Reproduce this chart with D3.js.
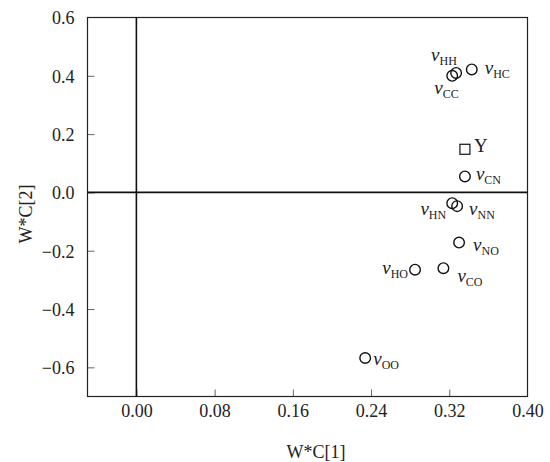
<!DOCTYPE html>
<html>
<head>
<meta charset="utf-8">
<script src="https://cdn.jsdelivr.net/npm/d3@7"></script>
<style>
  body { margin: 0; background: #fff; }
  text { font-family: "Liberation Serif", "DejaVu Serif", serif; fill: #222; }
</style>
</head>
<body>
<div id="chart"></div>
<script>
// point names (subscripts of v), coordinates
const names = ["HH", "CC", "HC", "CN", "HN", "NN", "NO", "HO", "CO", "OO"];
const xVals = [0.327, 0.323, 0.343, 0.336, 0.323, 0.328, 0.330, 0.285, 0.314, 0.234];
const yVals = [0.410, 0.400, 0.422, 0.055, -0.037, -0.047, -0.172, -0.265, -0.260, -0.568];
// the square marker
const yName = "Y";
const yPoint = [0.336, 0.148];

const xTicks = [0.00, 0.08, 0.16, 0.24, 0.32, 0.40];
const yTicks = [0.6, 0.4, 0.2, 0.0, -0.2, -0.4, -0.6];

// label placement next to each circle (dx, dy, anchor)
const labelPos = {
  HH: [-25, -12, "start"],
  CC: [-18, 18, "start"],
  HC: [13, 5, "start"],
  CN: [11, 4, "start"],
  HN: [-6, 12, "end"],
  NN: [12, 9, "start"],
  NO: [14, 8, "start"],
  HO: [-7, 4, "end"],
  CO: [14, 14, "start"],
  OO: [8, 7, "start"]
};

const width = 550, height = 462;
const margin = {left: 87.5, right: 22.5, top: 17.5, bottom: 65.5};

const svg = d3.select("#chart").append("svg")
  .attr("width", width)
  .attr("height", height);

let x = d3.scaleLinear().domain([-0.05, 0.40]).range([margin.left, width - margin.right]);
let y = d3.scaleLinear().domain([-0.7, 0.6]).range([height - margin.bottom, margin.top]);

// ticks pointing inward
let xAxis = d3.axisBottom(x).tickValues(xTicks).tickSize(-7).tickPadding(8).tickFormat(d3.format(".2f"));
let yAxis = d3.axisLeft(y).tickValues(yTicks).tickSize(-7).tickPadding(13)
  .tickFormat(d => d3.format(".1f")(d).replace("-", "\u2212"));

let gx = svg.append("g").attr("transform", "translate(0," + (height - margin.bottom) + ")").call(xAxis);
let gy = svg.append("g").attr("transform", "translate(" + margin.left + ",0)").call(yAxis);

[gx, gy].forEach(g => {
  g.select(".domain").remove();
  g.selectAll(".tick line").attr("stroke", "#666").attr("stroke-width", 1);
  g.selectAll(".tick text").style("font-size", "18px").attr("fill", "#222");
});
gy.selectAll(".tick text").attr("dy", "0.35em");
// the 0.6 tick sits on the frame
gy.selectAll(".tick line").filter(d => d === 0.6).remove();
gx.selectAll(".tick line").filter(d => d === 0.40).remove();

// frame
svg.append("rect")
  .attr("x", margin.left)
  .attr("y", margin.top)
  .attr("width", width - margin.left - margin.right)
  .attr("height", height - margin.top - margin.bottom)
  .attr("fill", "none")
  .attr("stroke", "#222")
  .attr("stroke-width", 1.2);

// zero lines
svg.append("line")
  .attr("x1", x(0)).attr("x2", x(0))
  .attr("y1", margin.top).attr("y2", height - margin.bottom)
  .attr("stroke", "#111").attr("stroke-width", 1.6);
svg.append("line")
  .attr("x1", margin.left).attr("x2", width - margin.right)
  .attr("y1", y(0)).attr("y2", y(0))
  .attr("stroke", "#111").attr("stroke-width", 1.6);

// axis titles
svg.append("text")
  .attr("x", 316)
  .attr("y", 458)
  .attr("text-anchor", "middle")
  .style("font-size", "18px")
  .text("W*C[1]");

svg.append("text")
  .attr("transform", "translate(32," + 214 + ") rotate(-90)")
  .attr("text-anchor", "middle")
  .style("font-size", "18px")
  .text("W*C[2]");

// points
let data = names.map((n, i) => ({name: n, x: xVals[i], y: yVals[i]}));

svg.selectAll("circle.pt").data(data).enter().append("circle")
  .attr("class", "pt")
  .attr("cx", d => x(d.x))
  .attr("cy", d => y(d.y))
  .attr("r", 5.3)
  .attr("fill", "none")
  .attr("stroke", "#111")
  .attr("stroke-width", 1.4);

let labels = svg.selectAll("text.lbl").data(data).enter().append("text")
  .attr("class", "lbl")
  .attr("x", d => x(d.x) + labelPos[d.name][0])
  .attr("y", d => y(d.y) + labelPos[d.name][1])
  .attr("text-anchor", d => labelPos[d.name][2]);

labels.append("tspan")
  .style("font-style", "italic")
  .style("font-size", "19px")
  .text("v");
labels.append("tspan")
  .style("font-size", "12px")
  .attr("dy", 4)
  .text(d => d.name);

// square marker Y
svg.append("rect")
  .attr("x", x(yPoint[0]) - 5)
  .attr("y", y(yPoint[1]) - 5)
  .attr("width", 10)
  .attr("height", 10)
  .attr("fill", "none")
  .attr("stroke", "#111")
  .attr("stroke-width", 1.2);

svg.append("text")
  .attr("x", x(yPoint[0]) + 9)
  .attr("y", y(yPoint[1]) + 3)
  .style("font-size", "19px")
  .text(yName);
</script>
</body>
</html>
